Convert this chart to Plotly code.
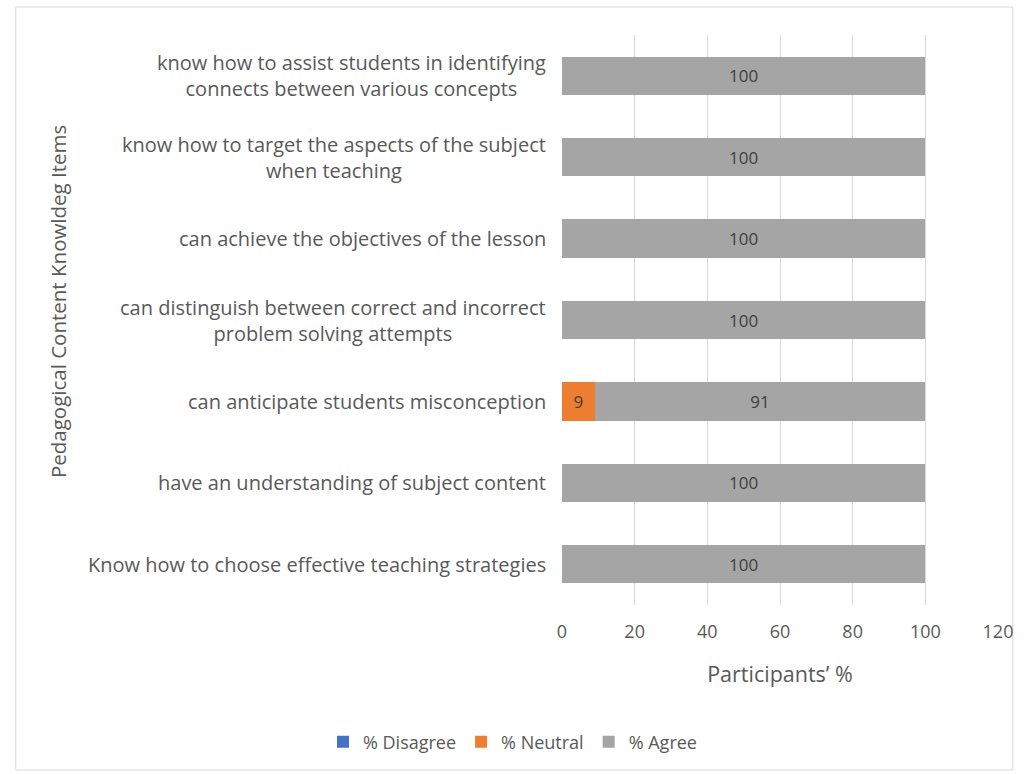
import plotly.graph_objects as go

# Survey items, listed top to bottom
items = [
    "know how to assist students in identifying<br>connects between various concepts",
    "know how to target the aspects of the subject<br>when teaching",
    "can achieve the objectives of the lesson",
    "can distinguish between correct and incorrect<br>problem solving attempts",
    "can anticipate students misconception",
    "have an understanding of subject content",
    "Know how to choose effective teaching strategies",
]
disagree = [0, 0, 0, 0, 0, 0, 0]
neutral = [0, 0, 0, 0, 9, 0, 0]
agree = [100, 100, 100, 100, 91, 100, 100]
x_ticks = [0, 20, 40, 60, 80, 100, 120]

W, H = 1025, 774
L, R, T, B = 562, 20, 35, 169
TEXT = "#595959"
FONT = "Open Sans, Noto Sans, sans-serif"


def labels(vals):
    return [str(v) if v else "" for v in vals]


fig = go.Figure()
series = [
    ("% Disagree", disagree, "#4472C4"),
    ("% Neutral", neutral, "#ED7D31"),
    ("% Agree", agree, "#A5A5A5"),
]
for name, vals, col in series:
    fig.add_trace(go.Bar(
        name=name, y=items, x=vals, orientation="h",
        marker=dict(color=col, line=dict(width=0)),
        text=labels(vals), textposition="inside", insidetextanchor="middle",
        textfont=dict(color="#404040", size=17, family=FONT),
        hoverinfo="x+name",
    ))

pw, ph = W - L - R, H - T - B

# Category labels drawn as centred multi-line blocks to the left of the axis
annotations = []
for it in items:
    annotations.append(dict(
        x=0, xref="paper", y=it, yref="y", text=it, showarrow=False,
        xanchor="right", align="center", xshift=-14,
        font=dict(size=20, color=TEXT, family=FONT),
    ))
annotations.append(dict(
    x=(50 - L) / pw, xref="paper", y=(H - B - 302) / ph, yref="paper",
    xanchor="center", yanchor="middle",
    text="Pedagogical Content Knowldeg Items", textangle=-90, showarrow=False,
    font=dict(size=20.5, color=TEXT, family=FONT),
))

fig.update_layout(
    width=W, height=H,
    margin=dict(l=L, r=R, t=T, b=B),
    barmode="stack", bargap=0.53,
    plot_bgcolor="white", paper_bgcolor="white",
    font=dict(family=FONT, color=TEXT, size=18),
    xaxis=dict(
        range=[0, 120], tickvals=x_ticks, showgrid=True, gridcolor="#D9D9D9",
        gridwidth=1, zeroline=False, showline=False, ticks="",
        ticklabelstandoff=14,
        tickfont=dict(size=18, color=TEXT), fixedrange=True,
        title=dict(text="Participants’ %", font=dict(size=21.5, color=TEXT), standoff=24),
    ),
    yaxis=dict(
        autorange="reversed", showticklabels=False, showgrid=False,
        zeroline=False, ticks="", fixedrange=True,
    ),
    legend=dict(
        orientation="h", x=0.5, xref="container", xanchor="center",
        y=(H - 742) / H, yref="container", yanchor="middle",
        font=dict(size=18, color=TEXT), traceorder="normal",
        itemwidth=30,
    ),
    annotations=annotations,
    shapes=[dict(
        type="rect", xref="paper", yref="paper",
        x0=(7 - L) / pw, x1=(W - 5 - L) / pw,
        y0=-(770 - (H - B)) / ph, y1=1 + (T - 7) / ph,
        line=dict(color="#D9D9D9", width=1), fillcolor="rgba(0,0,0,0)", layer="below",
    )],
    showlegend=True,
)

fig.write_html("out.html")
